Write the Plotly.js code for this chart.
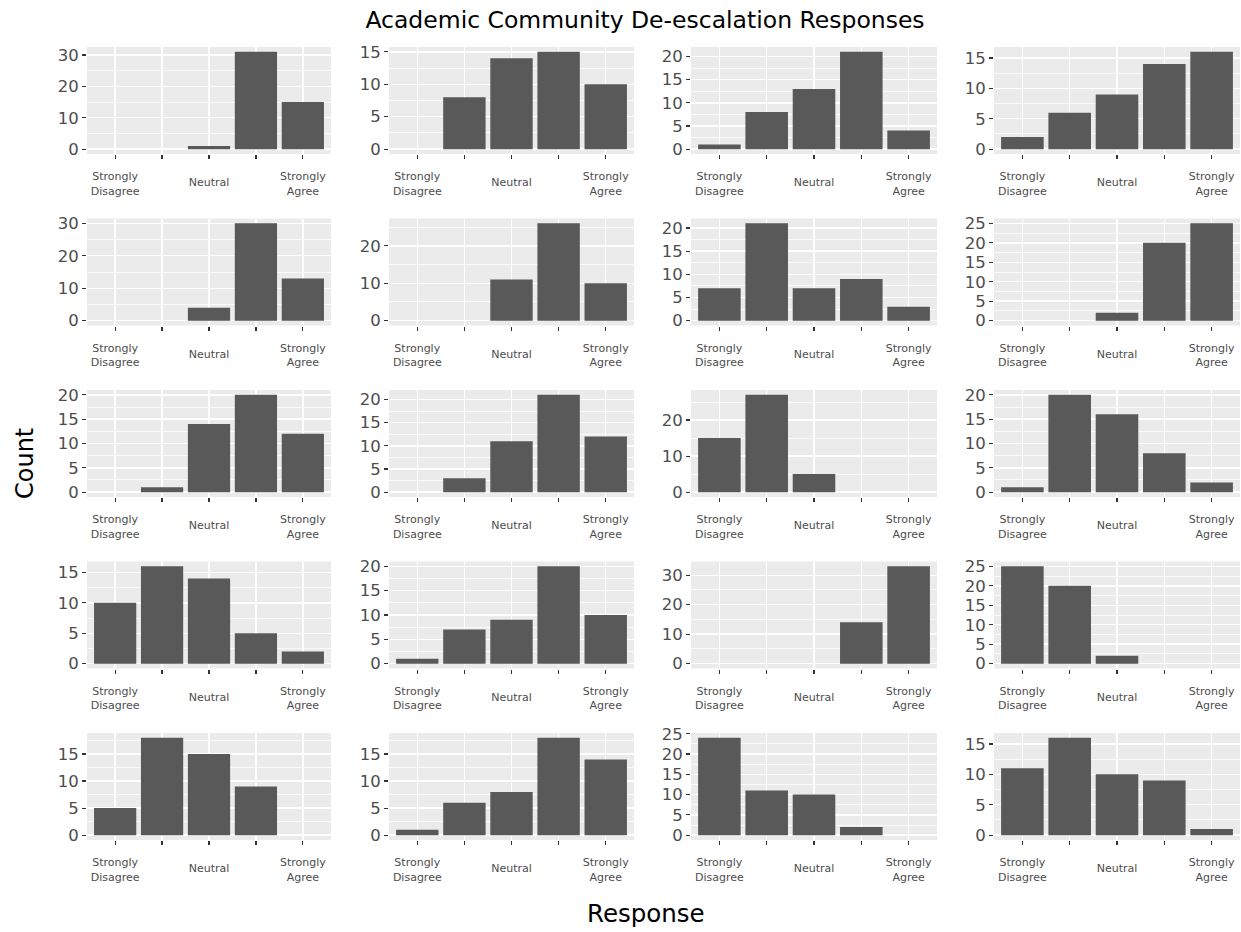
<!DOCTYPE html>
<html>
<head>
<meta charset="utf-8">
<script src="https://cdn.plot.ly/plotly-3.0.1.min.js"></script>
<style>html,body{margin:0;padding:0;background:#fff}</style>
</head>
<body>
<div id="chart" style="width:1241px;height:932px"></div>
<script>
// Response scale (x categories) and the labels shown under each panel
const responses = ['Strongly Disagree', 'Disagree', 'Neutral', 'Agree', 'Strongly Agree'];
const responseLabels = ['Strongly<br>Disagree', '', '', '', 'Strongly<br>Agree'];
const midLabels = ['', '', 'Neutral', '', ''];

// Counts per response, one array per survey item (row by row, left to right)
const q01 = [0, 0, 1, 31, 15];
const q02 = [0, 8, 14, 15, 10];
const q03 = [1, 8, 13, 21, 4];
const q04 = [2, 6, 9, 14, 16];
const q05 = [0, 0, 4, 30, 13];
const q06 = [0, 0, 11, 26, 10];
const q07 = [7, 21, 7, 9, 3];
const q08 = [0, 0, 2, 20, 25];
const q09 = [0, 1, 14, 20, 12];
const q10 = [0, 3, 11, 21, 12];
const q11 = [15, 27, 5, 0, 0];
const q12 = [1, 20, 16, 8, 2];
const q13 = [10, 16, 14, 5, 2];
const q14 = [1, 7, 9, 20, 10];
const q15 = [0, 0, 0, 14, 33];
const q16 = [25, 20, 2, 0, 0];
const q17 = [5, 18, 15, 9, 0];
const q18 = [1, 6, 8, 18, 14];
const q19 = [24, 11, 10, 2, 0];
const q20 = [11, 16, 10, 9, 1];

// Count-axis tick spacing for each panel
const countTickSteps = [10, 5, 5, 5, 10, 10, 5, 5, 5, 5, 10, 5, 5, 5, 10, 5, 5, 5, 5, 5];

const items = [q01, q02, q03, q04, q05, q06, q07, q08, q09, q10,
               q11, q12, q13, q14, q15, q16, q17, q18, q19, q20];

// Page geometry (pixels) for the 5 x 4 panel grid
const W = 1241, H = 932;
const colLeft = [87, 389, 691, 994];
const colRight = [331, 634, 937, 1240];
const rowTop = [47, 218.5, 390, 561.5, 733];
const panelH = 107;
const nPanels = items.length;

const FONT = 'DejaVu Sans, Liberation Sans, Arial, sans-serif';
const xTickFont = {family: FONT, size: 11, color: '#4D4D4D'};

const traces = [];
const layout = {
  width: W,
  height: H,
  margin: {l: 0, r: 0, t: 0, b: 0},
  paper_bgcolor: '#ffffff',
  plot_bgcolor: '#EBEBEB',
  showlegend: false,
  title: {
    text: 'Academic Community De-escalation Responses',
    font: {family: FONT, size: 23.5, color: '#000000'},
    x: 645 / W, xanchor: 'center', xref: 'paper',
    y: 1 - 20 / H, yanchor: 'middle', yref: 'container'
  },
  annotations: [
    {text: 'Count', textangle: -90, xref: 'paper', yref: 'paper',
     x: 25 / W, y: 1 - 464 / H, xanchor: 'center', yanchor: 'middle',
     showarrow: false, font: {family: FONT, size: 24, color: '#000000'}},
    {text: 'Response', xref: 'paper', yref: 'paper',
     x: 646 / W, y: 1 - 913 / H, xanchor: 'center', yanchor: 'middle',
     showarrow: false, font: {family: FONT, size: 24.5, color: '#000000'}}
  ]
};

items.forEach((counts, i) => {
  const n = i + 1;
  const r = Math.floor(i / 4), c = i % 4;
  const xKey = n === 1 ? 'xaxis' : 'xaxis' + n;
  const yKey = n === 1 ? 'yaxis' : 'yaxis' + n;
  const maxCount = Math.max(...counts);
  const step = countTickSteps[i];
  const xDomain = [colLeft[c] / W, colRight[c] / W];

  traces.push({
    type: 'bar',
    x: responses,
    y: counts,
    xaxis: 'x' + n,
    yaxis: 'y' + n,
    width: 0.9,
    marker: {color: '#595959', line: {width: 0}},
    hoverinfo: 'x+y'
  });

  layout[xKey] = {
    domain: xDomain,
    anchor: 'y' + n,
    type: 'category',
    categoryorder: 'array',
    categoryarray: responses,
    tickmode: 'array',
    tickvals: responses,
    ticktext: responseLabels,
    range: [-0.6, 4.6],
    showgrid: true, gridcolor: '#ffffff', gridwidth: 1.4,
    zeroline: false, showline: false,
    ticks: 'outside', ticklen: 4, tickwidth: 1.2, tickcolor: '#333333',
    ticklabelstandoff: 8,
    tickangle: 0,
    tickfont: xTickFont,
    fixedrange: true
  };

  // Second x axis on the same panel carrying the centred middle label
  const m = n + nPanels;
  layout['xaxis' + m] = {
    domain: xDomain,
    anchor: 'y' + n,
    overlaying: 'x' + n,
    type: 'category',
    categoryorder: 'array',
    categoryarray: responses,
    tickmode: 'array',
    tickvals: responses,
    ticktext: midLabels,
    range: [-0.6, 4.6],
    showgrid: false, zeroline: false, showline: false,
    ticks: '', ticklen: 4,
    ticklabelstandoff: 20,
    tickangle: 0,
    tickfont: xTickFont,
    fixedrange: true
  };
  traces.push({
    type: 'bar',
    x: responses,
    y: counts.map(() => null),
    xaxis: 'x' + m,
    yaxis: 'y' + n,
    hoverinfo: 'skip',
    showlegend: false
  });

  layout[yKey] = {
    domain: [(H - rowTop[r] - panelH) / H, (H - rowTop[r]) / H],
    anchor: 'x' + n,
    range: [-0.05 * maxCount, 1.05 * maxCount],
    tickmode: 'linear', tick0: 0, dtick: step,
    showgrid: true, gridcolor: '#ffffff', gridwidth: 1.4,
    minor: {tick0: 0, dtick: step / 2, showgrid: true, gridcolor: '#ffffff', gridwidth: 0.7, ticks: ''},
    zeroline: false, showline: false,
    ticks: 'outside', ticklen: 4, tickwidth: 1.2, tickcolor: '#333333',
    tickfont: {family: FONT, size: 16.5, color: '#4D4D4D'},
    fixedrange: true
  };
});

Plotly.newPlot('chart', traces, layout, {staticPlot: true, displayModeBar: false});
</script>
</body>
</html>
